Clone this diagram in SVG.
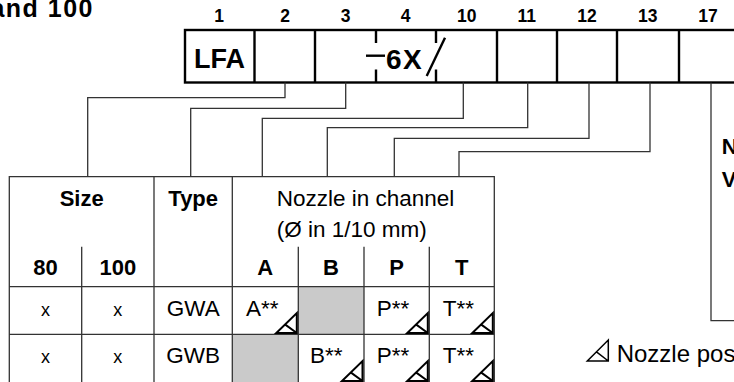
<svg xmlns="http://www.w3.org/2000/svg" width="734" height="382" viewBox="0 0 734 382">
<defs>
<style>
.b{font-family:"Liberation Sans",Arial,sans-serif;font-weight:bold;fill:#000}
.n{font-family:"Liberation Sans",Arial,sans-serif;fill:#000}
.box{fill:none;stroke:#000;stroke-width:2.4}
.con{fill:none;stroke:#333;stroke-width:1.3}
.tbl{fill:none;stroke:#333;stroke-width:1.3}
.tri{fill:none;stroke:#000;stroke-width:2;stroke-linejoin:miter}
.gray{fill:#cacaca}
</style>
<g id="noz">
<path class="tri" d="M-20.5,0 L0,0 L0,-20 Z M-11.5,-8.4 L0,0"/>
</g>
</defs>
<rect width="734" height="382" fill="#fff"/>

<g id="title">
<text class="b" x="94" y="16.5" font-size="25" letter-spacing="1.5" text-anchor="end">and 100</text>
</g>

<g id="positions" class="b" font-size="17.5" text-anchor="middle">
<text x="219" y="21.5">1</text>
<text x="285" y="21.5">2</text>
<text x="345.7" y="21.5">3</text>
<text x="405.7" y="21.5">4</text>
<text x="466.7" y="21.5">10</text>
<text x="526.7" y="21.5">11</text>
<text x="587" y="21.5">12</text>
<text x="647.7" y="21.5">13</text>
<text x="708" y="21.5">17</text>
</g>

<g id="code">
<rect class="box" x="185" y="30" width="600" height="52.5"/>
<line class="box" x1="254.5" y1="30" x2="254.5" y2="82.5"/>
<line class="box" x1="315" y1="30" x2="315" y2="82.5"/>
<line class="box" x1="497" y1="30" x2="497" y2="82.5"/>
<line class="box" x1="557" y1="30" x2="557" y2="82.5"/>
<line class="box" x1="617" y1="30" x2="617" y2="82.5"/>
<line class="box" x1="679" y1="30" x2="679" y2="82.5"/>
<path class="box" d="M376,30 V43 M376,69.5 V82.5 M436,30 V43 M436,69.5 V82.5"/>
<text class="b" x="219.5" y="67.7" font-size="27" text-anchor="middle">LFA</text>
<line class="box" x1="366" y1="55.7" x2="385" y2="55.7"/>
<text class="b" x="386" y="69.3" font-size="28" letter-spacing="1.5">6X</text>
<line class="box" x1="445" y1="37.7" x2="426.7" y2="76"/>
</g>

<g id="connectors">
<path class="con" d="M285,82.5 V97.7 H87.7 V176.7"/>
<path class="con" d="M345.7,82.5 V108.3 H190.7 V176.7"/>
<path class="con" d="M463.3,82.5 V118.3 H262.3 V176.7"/>
<path class="con" d="M527.7,82.5 V127.7 H327.3 V176.7"/>
<path class="con" d="M589,82.5 V138.3 H394.3 V176.7"/>
<path class="con" d="M650,82.5 V151.7 H459 V176.7"/>
<path class="con" d="M711,82.5 V320.7 H740"/>
</g>

<g id="side-labels" class="b" font-size="22">
<text x="721.7" y="154">N</text>
<text x="721.7" y="186.7">V</text>
</g>

<g id="table">
<rect class="gray" x="298.3" y="286.7" width="65.7" height="47.6"/>
<rect class="gray" x="232.3" y="334.3" width="66" height="50"/>
<path class="tbl" d="M9.3,390 V176.7 H494.3 V390 M154,176.7 V390 M232.3,176.7 V390 M81.7,246.7 V390 M298.3,246.7 V390 M364,246.7 V390 M429.3,246.7 V390 M9.3,286.7 H494.3 M9.3,334.3 H494.3"/>
<g class="b" font-size="22" text-anchor="middle">
<text x="81.7" y="206">Size</text>
<text x="193.2" y="206">Type</text>
<text x="45.5" y="275">80</text>
<text x="117.8" y="275">100</text>
<text x="265.3" y="275">A</text>
<text x="331" y="275">B</text>
<text x="396.7" y="275">P</text>
<text x="461.8" y="275">T</text>
</g>
<g class="n" font-size="22.5">
<text x="276.7" y="206">Nozzle in channel</text>
<text x="276.7" y="236.7">(Ø in 1/10 mm)</text>
</g>
<g class="n" font-size="22.5" text-anchor="middle">
<text x="45.5" y="315.5" font-size="18">x</text>
<text x="117.8" y="315.5" font-size="18">x</text>
<text x="193.2" y="315.5">GWA</text>
<text x="45.5" y="363.3" font-size="18">x</text>
<text x="117.8" y="363.3" font-size="18">x</text>
<text x="193.2" y="363.3">GWB</text>
</g>
<g class="n" font-size="22.5">
<text x="246" y="315.5">A**</text>
<text x="376.7" y="315.5">P**</text>
<text x="442.7" y="315.5">T**</text>
<text x="310" y="363.3">B**</text>
<text x="376.7" y="363.3">P**</text>
<text x="442.7" y="363.3">T**</text>
</g>
<use href="#noz" x="296.8" y="333"/>
<use href="#noz" x="427.8" y="333"/>
<use href="#noz" x="492.8" y="333"/>
<use href="#noz" x="362.5" y="381"/>
<use href="#noz" x="427.8" y="381"/>
<use href="#noz" x="492.8" y="381"/>
</g>

<g id="legend">
<path fill="none" stroke="#000" stroke-width="1.5" d="M587.3,361 L608.3,361 L608.3,340 Z M596.8,352.2 L608.3,361"/>
<text class="n" x="616.7" y="361.7" font-size="24">Nozzle poss</text>
</g>
</svg>
